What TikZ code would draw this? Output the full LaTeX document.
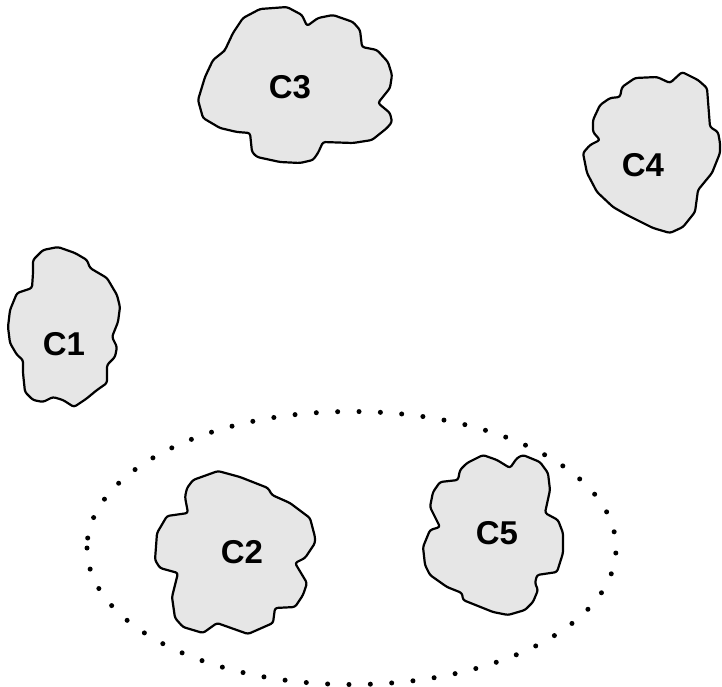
\documentclass[tikz,border=0pt]{standalone}
\usepackage{fontspec}
\setmainfont{Liberation Sans}
\definecolor{blobfill}{RGB}{230,230,230}
\begin{document}
\begin{tikzpicture}[x=1pt,y=-1pt,
  blob/.style={draw=black, fill=blobfill, line width=2.2pt, rounded corners=2.5pt, line join=round},
  lbl/.style={font=\fontsize{33}{36}\selectfont\bfseries, inner sep=0pt},
  dotring/.style={draw=black, line width=5pt, line cap=round, dash pattern=on 0pt off 21.37pt}]
\useasboundingbox (0,0) rectangle (722,686);
% C3
\draw[blob] (225,50) -- (233,33) -- (243,18) -- (260,9) -- (287,7) -- (302,15) -- (307,26) -- (318,18) -- (333,15) -- (353,22) -- (360,30) -- (362,47) -- (377,50) -- (388,62) -- (392,75) -- (390,88) -- (378,103) -- (390,113) -- (392,122) -- (387,128) -- (372,140) -- (353,143) -- (323,142) -- (318,153) -- (313,160) -- (300,163) -- (280,162) -- (257,157) -- (252,152) -- (250,133) -- (237,132) -- (220,128) -- (203,118) -- (198,100) -- (205,77) -- (213,60) -- (223,52) -- cycle;
% C4
\draw[blob] (622,87) -- (635,78) -- (657,77) -- (670,83) -- (682,72) -- (698,80) -- (707,88) -- (710,127) -- (718,132) -- (720,143) -- (720,153) -- (712,173) -- (698,190) -- (695,212) -- (683,227) -- (670,233) -- (653,228) -- (627,215) -- (613,207) -- (597,192) -- (587,173) -- (583,153) -- (590,145) -- (600,140) -- (593,132) -- (593,120) -- (600,105) -- (610,98) -- (620,97) -- cycle;
% C1
\draw[blob] (33,273) -- (33,260) -- (43,250) -- (58,247) -- (75,253) -- (87,260) -- (90,268) -- (107,278) -- (117,295) -- (120,307) -- (118,322) -- (112,337) -- (117,347) -- (115,357) -- (107,365) -- (107,383) -- (97,390) -- (86,399) -- (74,407) -- (63,400) -- (53,397) -- (43,402) -- (33,400) -- (25,392) -- (23,373) -- (23,360) -- (17,355) -- (10,343) -- (8,327) -- (10,310) -- (17,293) -- (32,288) -- cycle;
% C2
\draw[blob] (193,480) -- (218,471) -- (240,477) -- (268,488) -- (272,495) -- (290,503) -- (310,518) -- (315,537) -- (315,543) -- (305,558) -- (295,563) -- (307,583) -- (303,595) -- (295,607) -- (275,608) -- (273,623) -- (248,634) -- (217,623) -- (203,633) -- (183,627) -- (175,618) -- (172,597) -- (178,573) -- (160,568) -- (155,560) -- (157,533) -- (167,516) -- (188,513) -- (185,497) -- (187,488) -- cycle;
% C5
\draw[blob] (460,470) -- (467,463) -- (483,455) -- (497,460) -- (510,468) -- (517,458) -- (523,455) -- (540,462) -- (548,473) -- (550,490) -- (545,513) -- (558,520) -- (563,533) -- (563,553) -- (557,572) -- (537,575) -- (535,583) -- (538,590) -- (533,602) -- (525,610) -- (508,615) -- (493,612) -- (463,600) -- (462,593) -- (447,587) -- (430,575) -- (425,565) -- (423,547) -- (430,530) -- (440,527) -- (430,507) -- (433,492) -- (440,482) -- (458,480) -- cycle;
% labels
\node[lbl] (c3) at (290,87) {C3};
\node[lbl] (c4) at (643,165) {C4};
\node[lbl] (c1) at (64,344) {C1};
\node[lbl] (c2) at (242,552) {C2};
\node[lbl] (c5) at (497,533) {C5};
% dotted ellipse
\coordinate (ringstart) at (87,548);
\draw[dotring] (ringstart) arc[start angle=180, end angle=-180, x radius=264.5, y radius=136.5];
\end{tikzpicture}
\end{document}
